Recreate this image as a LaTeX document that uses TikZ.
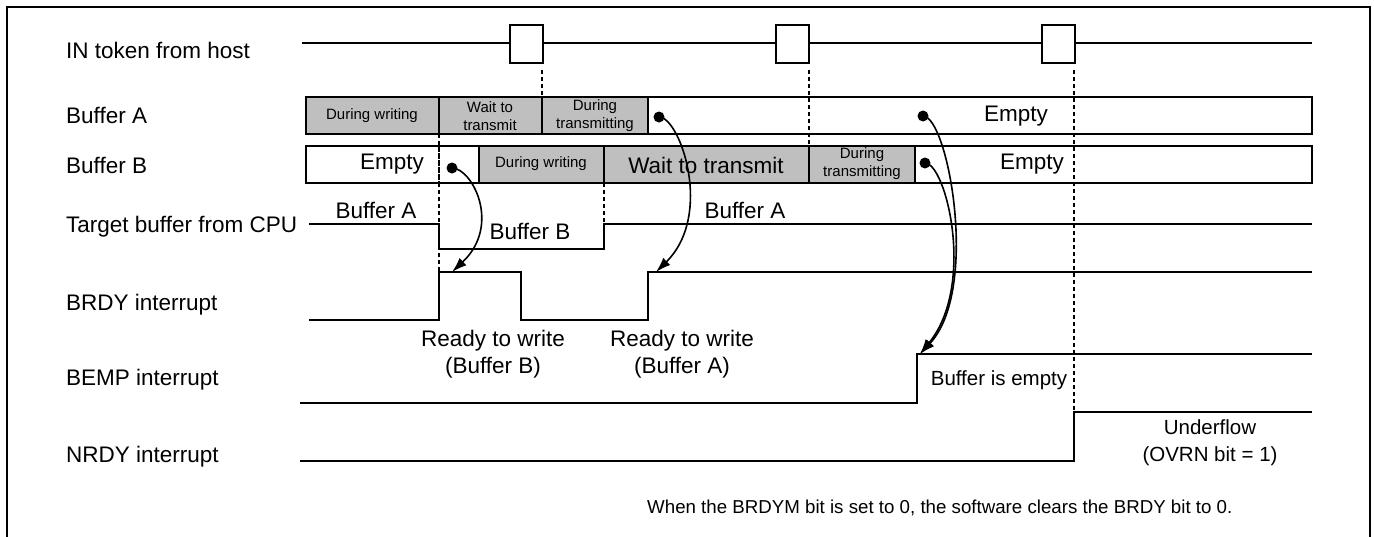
\documentclass[tikz,border=0pt]{standalone}
\usepackage{fontspec}
\setmainfont{Liberation Sans}
\usetikzlibrary{arrows.meta}

\newcommand\lblfont{\fontsize{22.5}{27}\selectfont}
\newcommand\cellfont{\fontsize{15}{18}\selectfont}
\newcommand\midfont{\fontsize{20.5}{27}\selectfont}
\newcommand\notefont{\fontsize{18.7}{22}\selectfont}

\begin{document}
\begin{tikzpicture}[
  x=1pt,y=-1pt,
  wave/.style={line width=1.9pt},
  guide/.style={dashed,dash pattern=on 4pt off 3pt,line width=1.1pt},
  cell/.style={draw,line width=1.7pt},
  busy/.style={cell,fill=black!25},
  dot/.style={circle,fill,inner sep=0,minimum size=11},
  conn/.style={line width=1.6pt,-{Latex[length=15pt,width=10pt]}},
  every node/.style={inner sep=0}
]
  \useasboundingbox (0,0) rectangle (1374,536);

  % Frame
  \draw[line width=2.5pt] (7,540) |- (1370,7) -- (1370,540);

  % Signal names
  \foreach \name/\y in {IN token from host/50,Buffer A/115,Buffer B/165,
      Target buffer from CPU/227,BRDY interrupt/305,BEMP interrupt/380,
      NRDY interrupt/457}
    \node[anchor=west,font=\lblfont] at (66,\y) {\name};

  % IN tokens
  \draw[wave,line width=1.7pt] (302,43) -- (1312,43);
  \foreach \x in {510,776,1042}
    \draw[line width=1.7pt,fill=white] (\x,25) rectangle +(33,38);

  % Guide lines
  \draw[guide] (439,134) -- (439,272);
  \draw[guide] (542,70) -- (542,97);
  \draw[guide] (604,183) -- (604,224);
  \draw[guide] (809,70) -- (809,146);
  \draw[guide] (1074,70) -- (1074,412);

  % Buffer A
  \begin{scope}
    \draw[cell] (306,97) rectangle (1312,134);
    \draw[busy] (306,97) rectangle (439,134);
    \draw[busy] (439,97) rectangle (542,134);
    \draw[busy] (542,97) rectangle (648,134);
    \node[font=\cellfont] at (372,116) {During writing};
    \node[font=\cellfont,align=center] at (490,116) {Wait to\\transmit};
    \node[font=\cellfont,align=center] at (595,116) {During\\transmitting};
    \node[font=\lblfont] at (1016,116) {Empty};
    \node[dot] (dotA1) at (659,117) {};
    \node[dot] (dotA2) at (923,116) {};
  \end{scope}

  % Buffer B
  \begin{scope}
    \draw[cell] (306,146) rectangle (1312,183);
    \draw[busy] (479,146) rectangle (604,183);
    \draw[busy] (604,146) rectangle (809,183);
    \draw[busy] (809,146) rectangle (915,183);
    \draw[guide] (439,146) -- (439,183);
    \node[font=\lblfont] at (392,164) {Empty};
    \node[font=\cellfont] at (541,164) {During writing};
    \node[font=\lblfont] at (706,165) {Wait to transmit};
    \node[font=\cellfont,align=center] at (862,164) {During\\transmitting};
    \node[font=\lblfont] at (1032,164) {Empty};
    \node[dot] (dotB1) at (452,168) {};
    \node[dot] (dotB2) at (925,163) {};
  \end{scope}

  % Target buffer from CPU
  \draw[wave] (309,224) -- (439,224) -- (439,249) -- (604,249) -- (604,224) -- (1312,224);
  \node[font=\lblfont] at (376,210) {Buffer A};
  \node[font=\lblfont] at (530,231) {Buffer B};
  \node[font=\lblfont] at (745,210) {Buffer A};

  % BRDY interrupt
  \draw[wave] (309,320) -- (439,320) -- (439,272) -- (521,272) -- (521,320)
    -- (648,320) -- (648,272) -- (1312,272);
  \coordinate (brdy rise one) at (452,272);
  \coordinate (brdy rise two) at (656,272);
  \node[font=\lblfont,align=center] at (493,354) {Ready to write\\(Buffer B)};
  \node[font=\lblfont,align=center] at (682,354) {Ready to write\\(Buffer A)};

  % BEMP interrupt
  \draw[wave] (300,403) -- (917,403) -- (917,354) -- (1312,354);
  \coordinate (bemp rise) at (920,354);
  \node[font=\midfont] at (999,380) {Buffer is empty};

  % NRDY interrupt
  \draw[wave] (300,461) -- (1074,461) -- (1074,412) -- (1312,412);
  \node[font=\midfont,align=center] at (1210,443) {Underflow\\(OVRN bit = 1)};

  % Arrows
  \draw[conn] (dotB1.center) .. controls (472,168) and (502,225) .. (brdy rise one);
  \draw[conn] (dotA1.center) .. controls (680,117) and (714,215) .. (brdy rise two);
  \draw[conn] (dotA2.center) .. controls (948,116) and (980,290) .. (bemp rise);
  \draw[conn] (dotB2.center) .. controls (946,163) and (976,285) .. (bemp rise);

  % Note
  \node[anchor=west,font=\notefont] at (647,508)
    {When the BRDYM bit is set to 0, the software clears the BRDY bit to 0.};
\end{tikzpicture}
\end{document}
